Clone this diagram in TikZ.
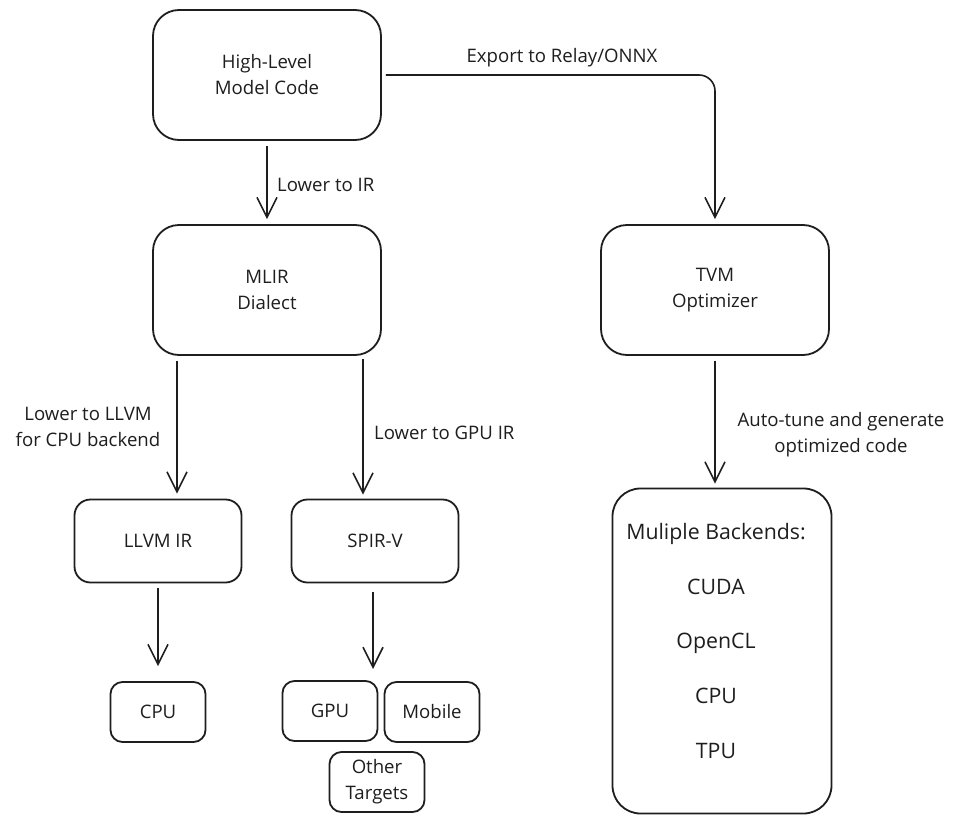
\documentclass[tikz,border=0pt]{standalone}
\usepackage{fontspec}
\setmainfont{Open Sans}
\usetikzlibrary{arrows.meta}
\definecolor{ink}{HTML}{1E1E1E}
\tikzset{
  box/.style={draw=ink, line width=1.8pt, align=center, inner sep=0pt, text=ink},
  bigbox/.style={box, rounded corners=26pt, minimum width=228pt, minimum height=130pt},
  midbox/.style={box, rounded corners=16pt, minimum width=167pt, minimum height=83pt},
  smallbox/.style={box, rounded corners=12pt, minimum width=95pt, minimum height=60pt},
  lbl/.style={text=ink, align=center, inner sep=0pt},
  arr/.style={draw=ink, line width=1.6pt, -{Straight Barb[length=20pt,width=20pt,line width=1.6pt]}},
}
\begin{document}
\begin{tikzpicture}[x=1pt,y=-1pt, font=\fontsize{18.6}{26}\selectfont]
\useasboundingbox[fill=white] (0,0) rectangle (960,824);

\node[bigbox] (hl) at (267,75) {High-Level\\Model Code};
\node[bigbox] (mlir) at (267,290) {MLIR\\Dialect};
\node[bigbox] (tvm) at (715,290) {TVM\\Optimizer};
\node[midbox] (llvm) at (158,541) {LLVM IR};
\node[midbox] (spirv) at (375,541) {SPIR-V};
\node[smallbox] (cpu) at (158,712) {CPU};
\node[smallbox] (gpu) at (330,711) {GPU};
\node[smallbox] (mobile) at (432,712) {Mobile};
\node[smallbox] (other) at (377,782) {Other\\Targets};
\node[box, rounded corners=28pt, minimum width=219pt, minimum height=325pt] (back) at (722,651) {};
\node[lbl, font=\fontsize{21.3}{54.75}\selectfont] (backtxt) at (716,641) {Muliple Backends:\\CUDA\\OpenCL\\CPU\\TPU};

\coordinate (spirvend) at (373,669);

\draw[arr] ([shift={(0,5)}]hl.south) -- ([shift={(0,-5)}]mlir.north);
\draw[arr, rounded corners=16pt] ([shift={(4,0)}]hl.east) -| ([shift={(0,-5)}]tvm.north);
\draw[arr] ([shift={(-90,5)}]mlir.south) -- ([shift={(19,-5)}]llvm.north);
\draw[arr] ([shift={(96,3)}]mlir.south) -- ([shift={(-12,-4)}]spirv.north);
\draw[arr] ([shift={(0,5)}]tvm.south) -- ([shift={(-7,-4)}]back.north);
\draw[arr] ([shift={(0,5)}]llvm.south) -- ([shift={(0,-15)}]cpu.north);
\draw[arr] ([shift={(-2,9)}]spirv.south) -- (spirvend);

\node[lbl, anchor=west] (l1) at (277,185) {Lower to IR};
\node[lbl] (l2) at (562,58) {Export to Relay/ONNX};
\node[lbl] (l3) at (88,427) {Lower to LLVM\\for CPU backend};
\node[lbl, anchor=west] (l4) at (374,433) {Lower to GPU IR};
\node[lbl] (l5) at (841,435) {Auto-tune and generate\\optimized code};
\end{tikzpicture}
\end{document}
